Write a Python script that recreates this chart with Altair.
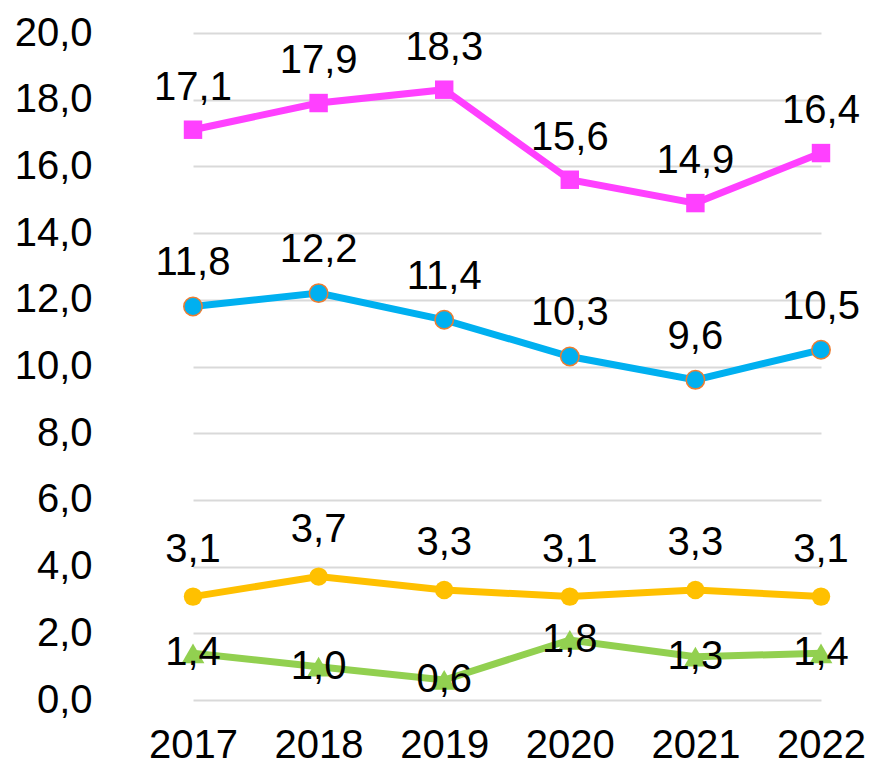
import altair as alt
import pandas as pd

years = ["2017", "2018", "2019", "2020", "2021", "2022"]
magenta = [17.1, 17.9, 18.3, 15.6, 14.9, 16.4]
blue = [11.8, 12.2, 11.4, 10.3, 9.6, 10.5]
yellow = [3.1, 3.7, 3.3, 3.1, 3.3, 3.1]
green = [1.4, 1.0, 0.6, 1.8, 1.3, 1.4]

series = [
    ("A", magenta, "#FF40FF", "square", None, -42),
    ("B", blue, "#00B0F0", "circle", "#ED7D31", -43),
    ("C", yellow, "#FFC000", "circle", None, -47),
    ("D", green, "#92D050", "triangle-up", None, 0),
]

FONT = "Liberation Sans"
xscale = alt.Scale(type="point", domain=years, range=[63, 691], padding=0)
yscale = alt.Scale(domain=[0, 20], nice=False)

x_axis = alt.X("year:O", scale=xscale, sort=years,
               axis=alt.Axis(title=None, labelAngle=0, labelFont=FONT, labelFontSize=40,
                             labelColor="#000000", labelPadding=25, ticks=False, domain=False,
                             grid=False))
y_axis = alt.Y("value:Q", scale=yscale,
               axis=alt.Axis(title=None, values=list(range(0, 21, 2)),
                             labelExpr="replace(format(datum.value, '.1f'), '.', ',')",
                             labelFont=FONT, labelFontSize=40, labelColor="#000000",
                             labelPadding=38, ticks=False, domain=False,
                             grid=True, gridColor="#D9D9D9", gridWidth=2))
x_plain = alt.X("year:O", scale=xscale, sort=years)
y_plain = alt.Y("value:Q", scale=yscale)

layers = []
for i, (name, vals, color, shape, stroke, dy) in enumerate(series):
    df = pd.DataFrame({"year": years, "value": vals})
    base = alt.Chart(df).transform_calculate(
        label="replace(format(datum.value, '.1f'), '.', ',')"
    )
    if i == 0:
        line = base.mark_line(color=color, strokeWidth=7).encode(x=x_axis, y=y_axis)
    else:
        line = base.mark_line(color=color, strokeWidth=7).encode(x=x_plain, y=y_plain)
    pt_kwargs = dict(shape=shape, filled=True, fill=color, opacity=1,
                     size=340 if shape != "triangle-up" else 520)
    if stroke:
        pt_kwargs.update(stroke=stroke, strokeWidth=1.5)
    else:
        pt_kwargs.update(strokeWidth=0)
    pts = base.mark_point(**pt_kwargs).encode(x=x_plain, y=y_plain)
    txt = base.mark_text(font=FONT, fontSize=40, color="#000000", dy=dy,
                         baseline="middle", align="center").encode(
        x=x_plain, y=y_plain, text="label:N")
    layers += [line, pts, txt]

chart = alt.layer(*layers).properties(
    width=739, height=667,
    background="#FFFFFF",
    autosize=alt.AutoSizeParams(type="none"),
    padding={"left": 122, "top": 25, "right": 0, "bottom": 67},
).configure_view(strokeWidth=0, stroke="transparent")

chart.save("out.html", embed_options={"renderer": "svg", "actions": False})
